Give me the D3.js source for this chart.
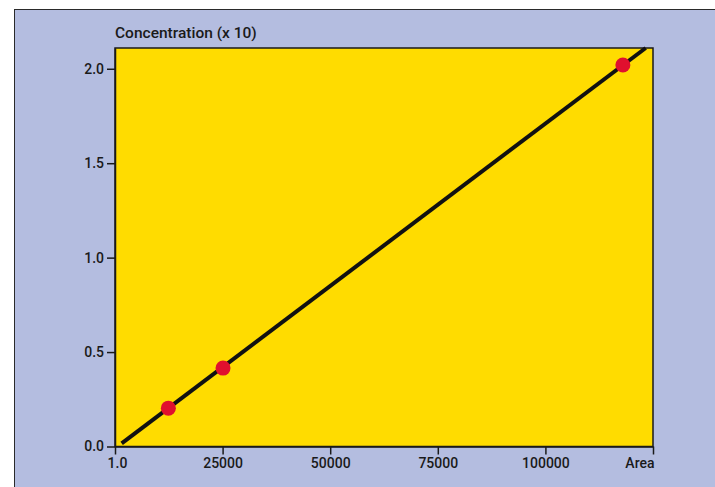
<!DOCTYPE html>
<html>
<head>
<meta charset="utf-8">
<script src="https://cdn.jsdelivr.net/npm/d3@7"></script>
<style>
  html, body { margin: 0; padding: 0; background: #ffffff; }
  svg { display: block; }
  text { font-family: Roboto, "Open Sans", sans-serif; fill: #1a1a1a; font-weight: 500; }
</style>
</head>
<body>
<svg id="chart" width="715" height="487"></svg>
<script>
// Calibration measurements: peak area vs concentration
const areaValues = [12400, 25100, 118000];
const concentrationValues = [0.203, 0.415, 2.02];

// Fitted calibration line, as two end points
const fitArea = [1550, 123300];
const fitConcentration = [0.017, 2.11];

// Axis ticks and their labels
const xTickValues = [0, 25000, 50000, 75000, 100000, 125000];
const xTickLabels = ["1.0", "25000", "50000", "75000", "100000", "Area"];
const yTickValues = [0, 0.5, 1.0, 1.5, 2.0];
const yTickLabels = ["0.0", "0.5", "1.0", "1.5", "2.0"];

const yTitle = "Concentration (x 10)";

const svg = d3.select("#chart");
const W = 715, H = 487;
const margin = { left: 115, right: 62, top: 48, bottom: 40 };
const plotW = W - margin.left - margin.right;
const plotH = H - margin.top - margin.bottom;

// Lavender panel, cropped on the right and bottom
svg.append("rect")
  .attr("x", 14.5).attr("y", 9.5)
  .attr("width", W).attr("height", H)
  .attr("fill", "#b4bde0")
  .attr("stroke", "#2a2a2a").attr("stroke-width", 1);

const x = d3.scaleLinear().domain([0, 125000]).range([margin.left, margin.left + plotW]);
const y = d3.scaleLinear().domain([0, 2.11]).range([margin.top + plotH - 0.5, margin.top]);

// Yellow plotting area
svg.append("rect")
  .attr("x", x(0)).attr("y", y(2.11))
  .attr("width", x(125000) - x(0)).attr("height", y(0) - y(2.11))
  .attr("fill", "#ffdc00")
  .attr("stroke", "#1a1a1a").attr("stroke-width", 1.5);

// Axes
const xAxis = d3.axisBottom(x)
  .tickValues(xTickValues)
  .tickFormat((d, i) => xTickLabels[i])
  .tickSize(8).tickSizeOuter(0).tickPadding(4);
const yAxis = d3.axisLeft(y)
  .tickValues(yTickValues)
  .tickFormat((d, i) => yTickLabels[i])
  .tickSize(8).tickSizeOuter(0).tickPadding(3);

const gx = svg.append("g").attr("transform", `translate(0,${y(0)})`).call(xAxis);
const gy = svg.append("g").attr("transform", `translate(${x(0)},0)`).call(yAxis);
[gx, gy].forEach(g => {
  g.select(".domain").attr("stroke", "#1a1a1a").attr("stroke-width", 1.5);
  g.selectAll(".tick line").attr("stroke", "#1a1a1a").attr("stroke-width", 1.5);
  g.selectAll(".tick text")
    .attr("font-family", "Roboto, sans-serif")
    .attr("font-size", 14)
    .attr("font-weight", 500)
    .attr("fill", "#1a1a1a");
});
gx.selectAll(".tick").filter((d, i) => i === xTickValues.length - 1)
  .select("text").attr("text-anchor", "end").attr("dx", 1);
gx.selectAll(".tick").filter((d, i) => i === 0)
  .select("text").attr("dx", 2);

// Y axis title above the plot
svg.append("text")
  .attr("x", x(0)).attr("y", 38)
  .attr("font-size", 15.5)
  .text(yTitle);

// Fitted line
svg.append("line")
  .attr("x1", x(fitArea[0])).attr("y1", y(fitConcentration[0]))
  .attr("x2", x(fitArea[1])).attr("y2", y(fitConcentration[1]))
  .attr("stroke", "#111111").attr("stroke-width", 4);

// Measured points
svg.append("g").selectAll("circle")
  .data(areaValues.map((a, i) => ({ a, c: concentrationValues[i] })))
  .join("circle")
  .attr("cx", d => x(d.a)).attr("cy", d => y(d.c))
  .attr("r", 7.5)
  .attr("fill", "#e0102e");
</script>
</body>
</html>
